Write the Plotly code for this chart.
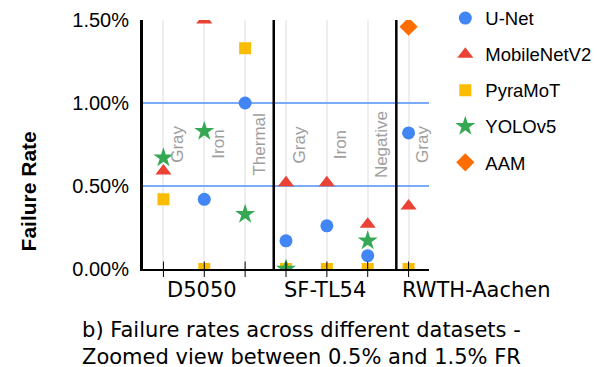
import plotly.graph_objects as go

# ---- data ----
categories = ["Gray", "Iron", "Thermal", "Gray", "Iron", "Negative", "Gray"]
groups = ["D5050", "SF-TL54", "RWTH-Aachen"]
group_sizes = [3, 3, 1]
unet = [None, 0.42, 1.00, 0.17, 0.26, 0.08, 0.82]
mobilenetv2 = [0.59, 1.50, None, 0.52, 0.52, 0.27, 0.38]
pyramot = [0.42, 0.00, 1.33, 0.00, 0.00, 0.00, 0.00]
yolov5 = [0.67, 0.83, 0.33, 0.00, None, 0.17, None]
aam = [None, None, None, None, None, None, 1.46]
y_ticks = [0.0, 0.5, 1.0, 1.5]

x = list(range(len(categories)))

series = [
    ("U-Net", unet, "circle", "#4285F4", 13),
    ("MobileNetV2", mobilenetv2, "triangle-up", "#EA4335", 14),
    ("PyraMoT", pyramot, "square", "#FBBC04", 12),
    ("YOLOv5", yolov5, "star", "#34A853", 15),
    ("AAM", aam, "diamond", "#FF6D01", 14),
]

fig = go.Figure()
for name, vals, sym, col, sz in series:
    fig.add_trace(go.Scatter(
        x=x, y=vals, mode="markers", name=name, legendgroup=name,
        marker=dict(symbol=sym, color=col, size=sz, line=dict(width=0)),
        cliponaxis=True,
    ))

shapes = []
# tick marks crossing the x axis at each category
for i in x:
    shapes.append(dict(type="line", xref="x", yref="paper", x0=i, x1=i,
                       y0=-0.032, y1=0.03, line=dict(color="black", width=1)))
# group separators
start = 0
for s in group_sizes[:-1]:
    start += s
    shapes.append(dict(type="line", xref="x", yref="paper", x0=start - 0.3, x1=start - 0.3,
                       y0=0, y1=1, line=dict(color="black", width=2.5)))

annotations = []
for i, c in zip(x, categories):
    annotations.append(dict(x=i + 0.34, y=0.75, xref="x", yref="y", text=c, showarrow=False,
                            textangle=-90, font=dict(family="Liberation Sans, Arial", size=17, color="#9e9e9e")))

# group labels
start = 0
group_label_pos = []
for g, s in zip(groups, group_sizes):
    group_label_pos.append((g, start, s))
    start += s
for g, st, s in group_label_pos:
    if s > 1:
        annotations.append(dict(x=st + (s - 1) / 2 - 0.05, y=-0.085, xref="x", yref="paper", text=g,
                                showarrow=False, xanchor="center", yanchor="middle",
                                font=dict(family="DejaVu Sans", size=21, color="black")))
    else:
        annotations.append(dict(x=st - 0.22, y=-0.085, xref="x", yref="paper", text=g,
                                showarrow=False, xanchor="left", yanchor="middle",
                                font=dict(family="DejaVu Sans", size=21, color="black")))

annotations.append(dict(x=-0.40, y=0.31, xref="paper", yref="paper", text="<b>Failure Rate</b>",
                        showarrow=False, textangle=-90, xanchor="center", yanchor="middle",
                        font=dict(family="Liberation Sans, Arial", size=21, color="black")))
annotations.append(dict(x=0.554, y=-0.300, xref="paper", yref="paper",
                        text="b) Failure rates across different datasets -<br>Zoomed view between 0.5% and 1.5% FR",
                        showarrow=False, xanchor="center", yanchor="middle", align="center",
                        font=dict(family="DejaVu Sans", size=21, color="black")))

fig.update_layout(
    width=608, height=367,
    margin=dict(l=142.5, r=178.5, t=20, b=98, autoexpand=False),
    paper_bgcolor="white", plot_bgcolor="white",
    showlegend=True,
    legend=dict(x=1.057, y=1.082, xanchor="left", yanchor="top",
                font=dict(family="Liberation Sans, Arial", size=18.5, color="black"),
                tracegroupgap=9, bgcolor="rgba(0,0,0,0)"),
    xaxis=dict(range=[-0.5, 6.5], tickvals=x, ticktext=["" for _ in x], showgrid=True,
               gridcolor="#eeeeee", gridwidth=2, zeroline=False, showline=True,
               linecolor="black", linewidth=1.5, ticks=""),
    yaxis=dict(range=[0, 1.5], tickvals=y_ticks, ticktext=[f"{v:.2f}%" for v in y_ticks],
               showgrid=True, gridcolor="#7baaf7", gridwidth=1.5, zeroline=False,
               showline=True, linecolor="black", linewidth=3, ticks="", ticklabelstandoff=7,
               tickfont=dict(family="Liberation Sans, Arial", size=20, color="black")),
    shapes=shapes, annotations=annotations,
)

fig.write_html("out.html", config={"displayModeBar": False},
               post_script="document.body.style.margin='0';document.body.style.overflow='hidden';")
